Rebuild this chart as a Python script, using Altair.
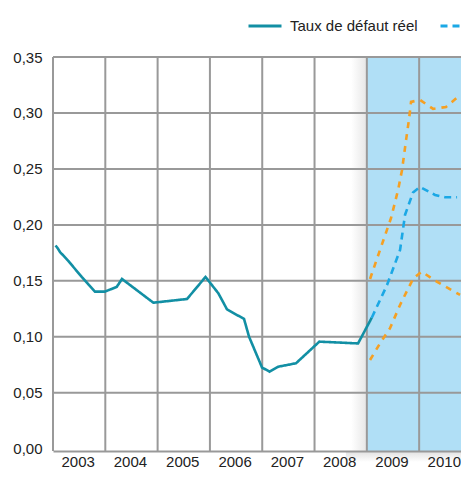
import altair as alt
import pandas as pd

# ---- data ----
real_years = [2003.048, 2003.086, 2003.134, 2003.293, 2003.549, 2003.688, 2003.803, 2003.994,
              2004.218, 2004.319, 2004.918, 2005.562, 2005.916, 2006.161, 2006.327, 2006.652,
              2006.748, 2006.996, 2007.140, 2007.308, 2007.646, 2008.092, 2008.832, 2009.094]
real_vals = [0.1816, 0.1794, 0.1758, 0.1678, 0.1535, 0.1463, 0.1404, 0.1404,
             0.1446, 0.1517, 0.1305, 0.1338, 0.1535, 0.1389, 0.1245, 0.1160,
             0.1001, 0.0726, 0.0689, 0.0733, 0.0764, 0.0957, 0.0941, 0.1171]

central_years = [2009.094, 2009.386, 2009.635, 2009.730, 2009.883, 2010.017, 2010.304, 2010.495, 2010.725]
central_vals = [0.1171, 0.1463, 0.1776, 0.2089, 0.2290, 0.2339, 0.2268, 0.2247, 0.2247]

upper_years = [2009.061, 2009.285, 2009.463, 2009.597, 2009.673, 2009.750, 2009.807, 2009.845,
               2010.017, 2010.266, 2010.514, 2010.744]
upper_vals = [0.1517, 0.1821, 0.2062, 0.2312, 0.2491, 0.2759, 0.2947, 0.3099,
              0.3117, 0.3036, 0.3054, 0.3144]

lower_years = [2009.061, 2009.252, 2009.443, 2009.635, 2009.793, 2009.889, 2010.050, 2010.337, 2010.782]
lower_vals = [0.0793, 0.0942, 0.1077, 0.1285, 0.1434, 0.1523, 0.1582, 0.1493, 0.1374]

series_names = ["Taux de défaut réel", "Prévision centrale", "Intervalle de confiance"]
series_colors = ["#128fa4", "#1ba8e5", "#f5a023"]
series_dash = [[1, 0], [7, 5], [6, 6]]

y_ticks = [0.0, 0.05, 0.10, 0.15, 0.20, 0.25, 0.30, 0.35]
h_grid = [0.05, 0.10, 0.15, 0.20, 0.25, 0.30, 0.35]
year_bounds = [2003, 2004, 2005, 2006, 2007, 2008, 2009, 2010]
year_labels = [2003.5, 2004.5, 2005.5, 2006.5, 2007.5, 2008.5, 2009.5, 2010.5]
forecast_start = 2009
x_domain = [2003, 2010.80]
y_domain = [-0.002, 0.35]

rows = []
for yr, v in zip(real_years, real_vals):
    rows.append({"year": yr, "value": v, "series": series_names[0], "part": "real"})
for yr, v in zip(central_years, central_vals):
    rows.append({"year": yr, "value": v, "series": series_names[1], "part": "central"})
for yr, v in zip(upper_years, upper_vals):
    rows.append({"year": yr, "value": v, "series": series_names[2], "part": "upper"})
for yr, v in zip(lower_years, lower_vals):
    rows.append({"year": yr, "value": v, "series": series_names[2], "part": "lower"})
df = pd.DataFrame(rows)

FONT = "Liberation Sans, Arial, sans-serif"
GRID = "#999999"
W, H = 408, 394

xs = alt.Scale(domain=x_domain, nice=False, zero=False)
ys = alt.Scale(domain=y_domain, nice=False, zero=False)

x_axis = alt.Axis(
    values=year_labels,
    labelExpr="floor(datum.value)",
    title=None,
    grid=False,
    ticks=False,
    tickSize=0,
    domain=True,
    domainColor=GRID,
    domainWidth=2,
    labelFont=FONT,
    labelFontSize=15,
    labelColor="#222222",
    labelPadding=3,
    labelOffset=-1.5,
    labelOverlap=False,
    zindex=1,
)
y_axis = alt.Axis(
    values=y_ticks,
    labelExpr="replace(format(datum.value, '.2f'), '.', ',')",
    title=None,
    grid=False,
    ticks=False,
    tickSize=0,
    domain=False,
    labelFont=FONT,
    labelFontSize=15,
    labelColor="#222222",
    labelPadding=11,
    zindex=1,
)

shade = alt.Chart(pd.DataFrame({"x": [forecast_start], "x2": [x_domain[1]]})).mark_rect(
    color="#b0dff6"
).encode(
    x=alt.X("x:Q", scale=xs, axis=x_axis),
    x2="x2:Q",
    y=alt.value(0),
    y2=alt.value(H),
)

side_shadow = alt.Chart(pd.DataFrame({"x": [forecast_start - 0.3], "x2": [forecast_start]})).mark_rect(
    color=alt.LinearGradient(
        gradient="linear",
        stops=[alt.GradientStop(color="#ffffff", offset=0), alt.GradientStop(color="#e6e6e6", offset=1)],
        x1=0, x2=1, y1=0, y2=0,
    )
).encode(
    x=alt.X("x:Q", scale=xs),
    x2="x2:Q",
    y=alt.value(0),
    y2=alt.value(H),
)

bottom_shadow = alt.Chart(pd.DataFrame({"x": [forecast_start - 0.4], "x2": [x_domain[1]]})).mark_rect(
    color=alt.LinearGradient(
        gradient="linear",
        stops=[alt.GradientStop(color="#e0e0e0", offset=0), alt.GradientStop(color="#ffffff", offset=1)],
        x1=0, x2=0, y1=0, y2=1,
    )
).encode(
    x=alt.X("x:Q", scale=xs),
    x2="x2:Q",
    y=alt.value(H),
    y2=alt.value(H + 11),
)

hgrid = alt.Chart(pd.DataFrame({"v": h_grid})).mark_rule(color=GRID, strokeWidth=2).encode(
    y=alt.Y("v:Q", scale=ys, axis=y_axis),
    x=alt.value(0),
    x2=alt.value(W),
)

vgrid = alt.Chart(pd.DataFrame({"yr": year_bounds})).mark_rule(color=GRID, strokeWidth=2).encode(
    x=alt.X("yr:Q", scale=xs),
    y=alt.value(0),
    y2=alt.value(H),
)

lines = alt.Chart(df).mark_line(strokeWidth=2.6, clip=True).encode(
    x=alt.X("year:Q", scale=xs),
    y=alt.Y("value:Q", scale=ys),
    color=alt.Color(
        "series:N",
        scale=alt.Scale(domain=series_names, range=series_colors),
        legend=alt.Legend(
            title=None,
            orient="none",
            direction="horizontal",
            legendX=194,
            legendY=-49,
            symbolType="stroke",
            symbolSize=1089,
            symbolStrokeWidth=3,
            labelFont=FONT,
            labelFontSize=15,
            labelColor="#222222",
            labelOffset=7,
            columnPadding=16,
            labelLimit=400,
        ),
    ),
    strokeDash=alt.StrokeDash(
        "series:N",
        scale=alt.Scale(domain=series_names, range=series_dash),
        legend=None,
    ),
    detail="part:N",
)

chart = alt.layer(shade, side_shadow, bottom_shadow, hgrid, vgrid, lines).properties(
    width=W,
    height=H,
    autosize=alt.AutoSizeParams(type="none"),
    padding={"left": 45, "top": 49, "right": 0, "bottom": 18},
    background="white",
).configure_view(stroke=None)

chart.save("out.html", embed_options={"renderer": "svg", "actions": False})
